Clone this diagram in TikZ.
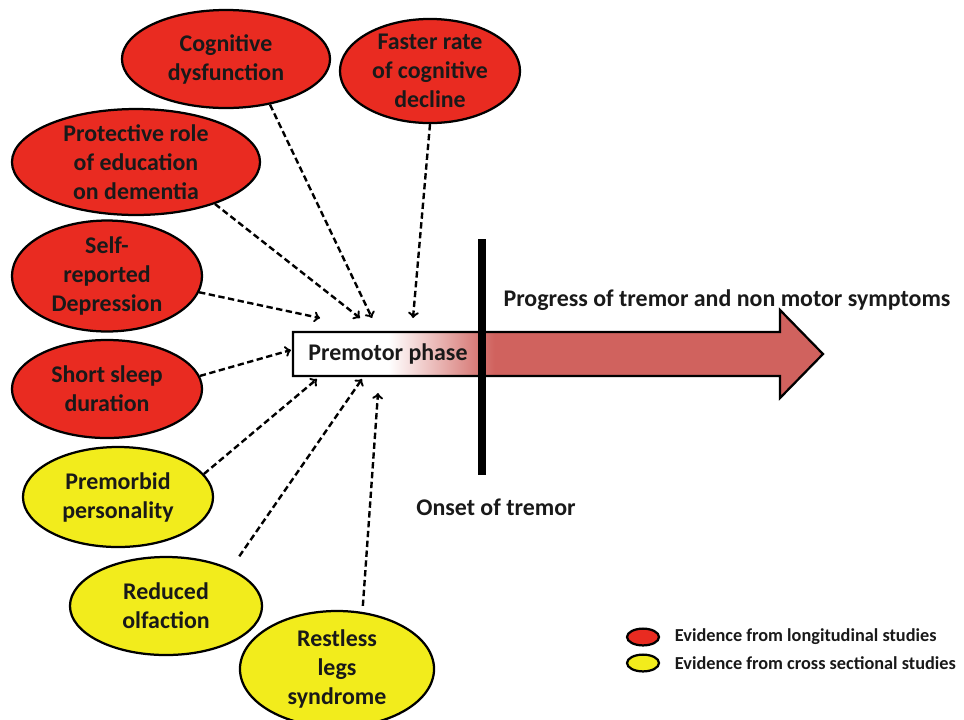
\documentclass[tikz,border=0pt]{standalone}
\usepackage{fontspec}
\setmainfont{Carlito}
\usetikzlibrary{shapes}
\definecolor{longred}{RGB}{233,43,33}
\definecolor{crossyellow}{RGB}{242,236,28}
\definecolor{tremorred}{RGB}{208,98,94}
\pgfdeclarehorizontalshading{premotorfade}{100bp}{color(0bp)=(white); color(34bp)=(white); color(44bp)=(tremorred); color(100bp)=(tremorred)}

\begin{document}
\begin{tikzpicture}[x=0.025cm, y=-0.025cm,
    every node/.style={font=\fontsize{17}{20.6}\selectfont\bfseries, text=black!90},
    bubble/.style={ellipse, draw, line width=1.6pt, align=center, inner sep=0pt},
    red bubble/.style={bubble, fill=longred},
    yellow bubble/.style={bubble, fill=crossyellow},
    arr/.style={->, dash pattern=on 4.5pt off 2.5pt, line width=1.7pt}]
    \useasboundingbox (0,0) rectangle (964,719);

    % TIMELINE
    \shadedraw[shading=premotorfade, line width=1.6pt] (293,332) -- (780,332) -- (780,310) -- (823,354) -- (780,398) -- (780,376) -- (293,376) -- cycle;
    \node (premotor) at (388,354) {Premotor phase};
    \draw[line width=0.18cm] (482,239) -- (482,475);
    \node (progress) at (727,300) {Progress of tremor and non motor symptoms};
    \node (onset) at (496,507) {Onset of tremor};

    % LONGITUDINAL
    \node[red bubble, minimum width=5.2cm, minimum height=2.45cm] (cogdys) at (226,59) {Cognitive\\dysfunction};
    \node[red bubble, minimum width=4.5cm, minimum height=2.45cm] (faster) at (430,71) {Faster rate\\of cognitive\\decline};
    \node[red bubble, minimum width=6.2cm, minimum height=2.45cm] (protect) at (136,162) {Protective role\\of education\\on dementia};
    \node[red bubble, minimum width=4.75cm, minimum height=2.75cm] (selfdep) at (107,276) {Self-\\reported\\Depression};
    \node[red bubble, minimum width=4.75cm, minimum height=2.45cm] (sleep) at (107,389) {Short sleep\\duration};

    % CROSS SECTIONAL
    \node[yellow bubble, minimum width=4.75cm, minimum height=2.5cm] (premorb) at (118,497) {Premorbid\\personality};
    \node[yellow bubble, minimum width=4.8cm, minimum height=2.45cm] (olfac) at (166,606) {Reduced\\olfaction};
    \node[yellow bubble, minimum width=4.85cm, minimum height=2.9cm] (restless) at (337,669) {Restless\\legs\\syndrome};

    % ARROW ENDS
    \coordinate (t1) at (372,318);
    \coordinate (t2) at (413,318);
    \coordinate (t3) at (360,318);
    \coordinate (t4) at (320,318);
    \coordinate (t5) at (291,350);
    \coordinate (t6) at (317,379);
    \coordinate (t7) at (362,379);
    \coordinate (t8) at (378,393);

    \draw[arr] (cogdys.-46) -- (t1);
    \draw[arr] (faster.south) -- (t2);
    \draw[arr] (protect.-28) -- (t3);
    \draw[arr] (selfdep.-10) -- (t4);
    \draw[arr] (sleep.8) -- (t5);
    \draw[arr] (premorb.15) -- (t6);
    \draw[arr, shorten <=0.375cm] (olfac.30) -- (t7);
    \draw[arr, shorten <=0.15cm] (restless.66) -- (t8);

    % LEGEND
    \node[bubble, fill=longred, minimum width=0.8cm, minimum height=0.42cm] (legred) at (643,637) {};
    \node[bubble, fill=crossyellow, minimum width=0.8cm, minimum height=0.42cm] (legyellow) at (643,663) {};
    \node[anchor=west, font=\fontsize{13}{15}\selectfont\bfseries] (legredtxt) at (670,637) {Evidence from longitudinal studies};
    \node[anchor=west, font=\fontsize{13}{15}\selectfont\bfseries] (legyellowtxt) at (670,663) {Evidence from cross sectional studies};
\end{tikzpicture}
\end{document}
